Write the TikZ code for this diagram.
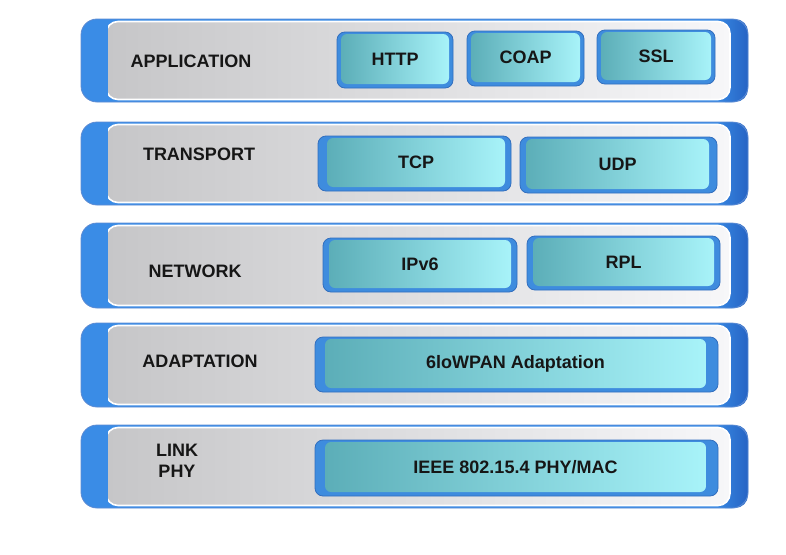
\documentclass[tikz,border=0pt]{standalone}
\usepackage{fontspec}
\setmainfont{Liberation Sans}
\definecolor{tabblue}{RGB}{58,140,230}
\definecolor{edgeblue}{RGB}{38,100,196}
\definecolor{facegrayL}{RGB}{198,198,200}
\definecolor{facegrayR}{RGB}{247,247,249}
\definecolor{tealL}{RGB}{92,174,184}
\definecolor{tealR}{RGB}{168,243,249}
\definecolor{boxblue}{RGB}{62,140,222}
\definecolor{boxedge}{RGB}{50,110,190}
\definecolor{inkc}{RGB}{22,22,22}
\tikzset{
  layertext/.style={font=\bfseries\fontsize{18}{21}\selectfont, text=inkc, inner sep=0pt, align=center},
  boxface/.style={rounded corners=6, left color=tealL, right color=tealR, inner sep=0pt,
    font=\bfseries\fontsize{18}{21}\selectfont, text=inkc}
}
\newcommand\LayerBand[2]{%
  \fill[tabblue, rounded corners=16] (81,#1) rectangle (748,#2);
  \shade[left color=tabblue, right color=edgeblue, rounded corners=13] (712,#1) rectangle (748,#2);
  \shade[left color=facegrayL, right color=facegrayR, draw=white, line width=1.6, rounded corners=12] (106,#1+2.5) rectangle (730,#2-2.5);
  \fill[tabblue] (96,#1+0.8) rectangle (108,#2-0.8);
  \draw[edgeblue!75, line width=0.8, rounded corners=16] (81,#1) rectangle (748,#2);
}
\newcommand\StackBox[8]{%
  \fill[boxblue, rounded corners=8] (#1,#2) rectangle (#3,#4);
  \draw[boxedge, line width=0.8, rounded corners=8] (#1,#2) rectangle (#3,#4);
  \pgfmathsetmacro\bw{#3-#1-#5-#6}%
  \pgfmathsetmacro\bh{#4-#2-6}%
  \pgfmathsetmacro\bx{#1+#5+\bw/2}%
  \pgfmathsetmacro\by{#2+2+\bh/2}%
  \node[boxface, minimum width=\bw pt, minimum height=\bh pt] (#7) at (\bx,\by) {#8};
}
\begin{document}
\begin{tikzpicture}[x=1pt,y=-1pt]
\useasboundingbox (0,0) rectangle (786,554);
\fill[white] (0,0) rectangle (786,554);

\LayerBand{19}{102}
\LayerBand{122}{205}
\LayerBand{223}{308}
\LayerBand{323}{407}
\LayerBand{425}{508}

\node[layertext] (app) at (191,61) {APPLICATION};
\node[layertext] (transport) at (199,154) {TRANSPORT};
\node[layertext] (network) at (195,271) {NETWORK};
\node[layertext] (adaptation) at (200,361) {ADAPTATION};
\node[layertext] (link) at (177,461) {LINK\\PHY};

\StackBox{337}{32}{453}{88}{4}{4}{http}{HTTP}
\StackBox{467}{31}{584}{86}{4}{4}{coap}{COAP}
\StackBox{597}{30}{715}{84}{4}{4}{ssl}{SSL}
\StackBox{318}{136}{511}{191}{9}{6}{tcp}{TCP}
\StackBox{520}{137}{717}{193}{6}{8}{udp}{UDP}
\StackBox{323}{238}{517}{292}{6}{6}{ipv6}{IPv6}
\StackBox{527}{236}{720}{290}{6}{6}{rpl}{RPL}
\StackBox{315}{337}{718}{392}{10}{12}{lowpan}{6loWPAN Adaptation}
\StackBox{315}{440}{718}{496}{10}{12}{ieee}{IEEE 802.15.4 PHY/MAC}
\end{tikzpicture}
\end{document}
